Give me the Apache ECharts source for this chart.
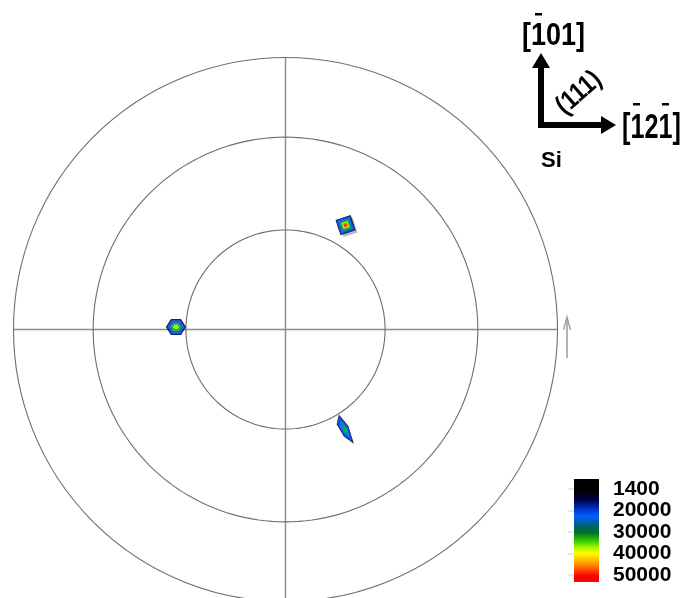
<!DOCTYPE html>
<html><head><meta charset="utf-8">
<script src="https://cdn.jsdelivr.net/npm/echarts@6/dist/echarts.min.js"></script>
<style>html,body{margin:0;padding:0;background:#fff}#c{width:686px;height:598px}</style>
</head><body><div id="c"></div>
<script>
// ---- data ----
const legendLabels = ['1400', '20000', '30000', '40000', '50000'];
const circleTilts = [30, 60];              // reference circles (tilt, deg)
const spotNames = ['upper', 'left', 'lower'];
const spotTilt = [36.5, 33.1, 35.1];       // tilt psi (deg)
const spotAzimuth = [60.1, 178.7, 300.9];  // azimuth phi (deg, ccw from east)
const spotUpperLevels = [14000, 21000, 27000, 34000, 41000, 49000];
const spotLeftLevels = [13000, 21000, 33000, 39000];
const spotLowerLevels = [13000, 20000, 25000, 31000];
const annotationTexts = ['[101]', '[121]', '(111)', 'Si'];

// equal-area projection radius (0..1)
const proj = psi => Math.SQRT2 * Math.sin(psi * Math.PI / 360);

const chart = echarts.init(document.getElementById('c'), null, {renderer: 'canvas'});

const circleSeries = circleTilts.map(t => {
  const pts = [];
  for (let a = 0; a <= 360; a += 2) pts.push([proj(t), a]);
  return {type: 'line', coordinateSystem: 'polar', data: pts, showSymbol: false, silent: true,
    lineStyle: {color: '#6e6e6e', width: 1.1}, z: 1};
});

const hexPath = 'path://M0,5 L3,0 L9,0 L12,5 L9,10 L3,10 Z';
const lowerPath = 'path://M2,0 L11,10 L16,25 L7,19 L0,8 Z';
const spotLevels = [spotUpperLevels, spotLeftLevels, spotLowerLevels];
const spotStyle = [
  {symbol: 'rect', rotate: 18, sizes: [[15,15],[13,13],[10.5,10.5],[8,8],[6,6],[3.5,3.5]]},
  {symbol: hexPath, rotate: 0, sizes: [[19,15],[16,12],[11,8.5],[6,4.5]]},
  {symbol: lowerPath, rotate: 0, sizes: [[16,27],[13.5,22],[10,16],[6,10]]}
];

const spotSeries = [];
spotNames.forEach((name, i) => {
  const r = proj(spotTilt[i]), a = spotAzimuth[i];
  const st = spotStyle[i];
  if (i === 0) {
    spotSeries.push({type: 'scatter', coordinateSystem: 'polar', name: name + '-shadow', silent: true,
      data: [[r, a]], symbol: st.symbol, symbolRotate: st.rotate, symbolSize: [15, 15],
      symbolOffset: [2.5, 2.5], itemStyle: {color: '#a8a8a8'}, z: 3});
  }
  spotSeries.push({
    type: 'scatter', coordinateSystem: 'polar', name: name, silent: true,
    data: spotLevels[i].map((v, k) => ({value: [r, a, v],
      itemStyle: k === 0 ? {borderColor: '#000040', borderWidth: 1} : {borderWidth: 0}})),
    symbol: st.symbol, symbolRotate: st.rotate,
    symbolSize: (val, p) => st.sizes[p.dataIndex],
    z: 4
  });
});

const gradStops = [
  [0, '#000000'], [0.12, '#000000'], [0.2, '#00004a'], [0.3, '#0038d0'], [0.36, '#0060ff'],
  [0.45, '#006078'], [0.52, '#007028'], [0.6, '#30cc00'], [0.66, '#a0f000'], [0.72, '#ffff00'],
  [0.8, '#ffb000'], [0.88, '#ff5000'], [0.94, '#ff0000'], [1, '#ff0000']
].map(s => ({offset: s[0], color: s[1]}));

const annoFont = '"Liberation Sans", Arial, sans-serif';

chart.setOption({
  animation: false,
  backgroundColor: '#ffffff',
  polar: {center: [285.5, 329.5], radius: 272},
  radiusAxis: {type: 'value', min: 0, max: 1, axisLine: {show: false}, axisTick: {show: false},
    axisLabel: {show: false}, splitLine: {show: false}},
  angleAxis: {type: 'value', min: 0, max: 360, interval: 90, startAngle: 0, clockwise: false,
    axisLine: {lineStyle: {color: '#6e6e6e', width: 1.1}}, axisTick: {show: false},
    axisLabel: {show: false}, splitLine: {show: true, lineStyle: {color: '#8c8c8c', width: 1.4}}},
  grid: {left: 574, top: 489, width: 25, height: 86},
  xAxis: {type: 'value', show: false, gridIndex: 0},
  yAxis: {type: 'category', gridIndex: 0, data: legendLabels, inverse: true, boundaryGap: false,
    position: 'right', z: 10,
    axisLine: {show: false},
    axisTick: {show: true, inside: true, interval: 0, length: 6, lineStyle: {color: '#e8e8e8', width: 2}},
    axisLabel: {interval: 0, margin: 14, color: '#000', fontSize: 21, fontWeight: 'bold', fontFamily: annoFont}},
  visualMap: {show: false, type: 'continuous', min: 0, max: 50000, dimension: 2,
    seriesIndex: [circleSeries.length + 1, circleSeries.length + 2, circleSeries.length + 3],
    inRange: {color: ['#000000', '#000030', '#00008a', '#0030d0', '#0060ff', '#0090d0',
      '#00a040', '#40e000', '#ffff00', '#ff9000', '#ff0000']}},
  series: circleSeries.concat(spotSeries),
  graphic: [
    {type: 'rect', shape: {x: 574, y: 479, width: 25, height: 103}, z: 0,
      style: {fill: {type: 'linear', x: 0, y: 0, x2: 0, y2: 1, colorStops: gradStops}}},
    // orientation arrows
    {type: 'polyline', shape: {points: [[541, 66], [541, 125], [602, 125]]},
      style: {stroke: '#000', lineWidth: 6, lineJoin: 'miter', fill: null}},
    {type: 'polygon', shape: {points: [[541, 53], [532, 68], [550, 68]]}, style: {fill: '#000'}},
    {type: 'polygon', shape: {points: [[616, 125], [601, 116], [601, 134]]}, style: {fill: '#000'}},
    {type: 'text', x: 522, y: 36, scaleX: 0.87, style: {text: annotationTexts[0], font: 'bold 31px ' + annoFont,
      fill: '#000', textAlign: 'left', textVerticalAlign: 'middle'}},
    {type: 'rect', shape: {x: 535, y: 13, width: 7, height: 2.5}, style: {fill: '#000'}},
    {type: 'text', x: 622, y: 128, scaleX: 0.72, style: {text: annotationTexts[1], font: 'bold 35px ' + annoFont,
      fill: '#000', textAlign: 'left', textVerticalAlign: 'middle'}},
    {type: 'rect', shape: {x: 633, y: 103, width: 7, height: 2.5}, style: {fill: '#000'}},
    {type: 'rect', shape: {x: 662, y: 103, width: 7, height: 2.5}, style: {fill: '#000'}},
    {type: 'text', x: 579, y: 93, rotation: 0.72, scaleX: 0.85,
      style: {text: annotationTexts[2], font: 'bold 27px ' + annoFont,
      fill: '#000', textAlign: 'center', textVerticalAlign: 'middle'}},
    {type: 'text', x: 541, y: 161, style: {text: annotationTexts[3], font: 'bold 22px ' + annoFont,
      fill: '#000', textAlign: 'left', textVerticalAlign: 'middle'}},
    // small reference arrow at right
    {type: 'polyline', shape: {points: [[567, 358], [567, 319]]}, style: {stroke: '#9a9a9a', lineWidth: 1.5}},
    {type: 'polyline', shape: {points: [[563.5, 330], [567, 317], [570.5, 330]]},
      style: {stroke: '#9a9a9a', lineWidth: 1.3, fill: null}}
  ]
});
</script></body></html>
